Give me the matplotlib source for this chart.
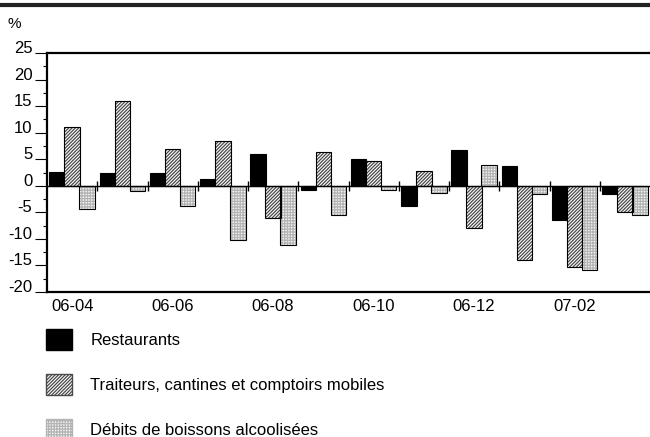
import numpy as np
import matplotlib

matplotlib.use("agg")
import matplotlib.pyplot as plt
from matplotlib.patches import Patch
from matplotlib.lines import Line2D

plt.rcParams["font.family"] = ["Liberation Sans", "DejaVu Sans"]
plt.rcParams["axes.unicode_minus"] = False
plt.rcParams["hatch.linewidth"] = 0.9

months = ["06-04", "06-05", "06-06", "06-07", "06-08", "06-09",
          "06-10", "06-11", "06-12", "07-01", "07-02", "07-03"]
restaurants = [2.6, 2.5, 2.4, 1.3, 6.0, -0.8, 5.0, -3.8, 6.8, 3.8, -6.4, -1.5]
traiteurs = [11.1, 15.9, 6.9, 8.4, -6.1, 6.3, 4.6, 2.7, -8.0, -14.0, -15.2, -5.0]
debits = [-4.4, -1.0, -3.8, -10.3, -11.1, -5.5, -0.85, -1.4, 3.9, -1.6, -15.9, -5.5]
series_names = ["Restaurants", "Traiteurs, cantines et comptoirs mobiles",
                "Débits de boissons alcoolisées"]

W, H = 650, 437
fig = plt.figure(figsize=(W / 100, H / 100), dpi=100)
ax = fig.add_axes([47 / W, 1 - 292 / H, 1 - 47 / W, (292 - 53) / H])

x = np.arange(len(months))
bw = 0.31
off = 0.3

hatch_tr = "//////////"
hatch_db = "++++++"

# restaurants: solid black
ax.bar(x - off, restaurants, bw, color="black", edgecolor="black", linewidth=0.8, zorder=2)
# traiteurs: diagonal hatch, drawn twice so hatch is grey and outline black
ax.bar(x, traiteurs, bw, color="white", edgecolor="#4a4a4a", hatch=hatch_tr, linewidth=0, zorder=2)
ax.bar(x, traiteurs, bw, fill=False, edgecolor="black", linewidth=0.8, zorder=3)
# debits: fine grid pattern
ax.bar(x + off, debits, bw, color="#f6f6f6", edgecolor="#b4b4b4", hatch=hatch_db, linewidth=0, zorder=2)
ax.bar(x + off, debits, bw, fill=False, edgecolor="black", linewidth=0.8, zorder=3)

ax.axhline(0, color="black", linewidth=1, zorder=4)
ax.vlines(x[:-1] + 0.5, -0.9, 0.9, color="black", linewidth=1, zorder=4)

ax.set_xlim(-0.5, len(months) - 0.5)
ax.set_ylim(-20, 25)
ax.set_yticks(np.arange(-20, 26, 5))
ax.set_yticks(np.arange(-17.5, 25, 5), minor=True)
ax.set_xticks(x[::2])
ax.set_xticklabels(months[::2])

for side in ["top", "left", "bottom"]:
    ax.spines[side].set_linewidth(1.6)
ax.spines["right"].set_visible(False)

ax.tick_params(axis="x", length=0, pad=5, labelsize=12)
ax.tick_params(axis="y", which="major", length=9, width=0.8, pad=1.5, labelsize=12)
ax.tick_params(axis="y", which="minor", length=3, width=0.8)
for lbl in ax.get_yticklabels():
    lbl.set_verticalalignment("baseline")

fig.text(8 / W, 1 - 28 / H, "%", fontsize=11, ha="left", va="baseline")

# thick rule at the top of the figure
fig.add_artist(Line2D([0, 1], [1 - 5 / H, 1 - 5 / H], color="#222222", linewidth=3,
                      transform=fig.transFigure))

handles = [
    Patch(facecolor="black", edgecolor="black"),
    Patch(facecolor="white", edgecolor="#4a4a4a", hatch=hatch_tr),
    Patch(facecolor="#f6f6f6", edgecolor="#b4b4b4", hatch=hatch_db),
]
fig.legend(handles, series_names, loc="upper left", bbox_to_anchor=(46 / W, 1 - 329 / H),
           frameon=False, fontsize=12, handlelength=1.56, handleheight=1.56,
           handletextpad=1.1, labelspacing=1.45, borderpad=0, borderaxespad=0)

fig.savefig("out.png", dpi=100)
